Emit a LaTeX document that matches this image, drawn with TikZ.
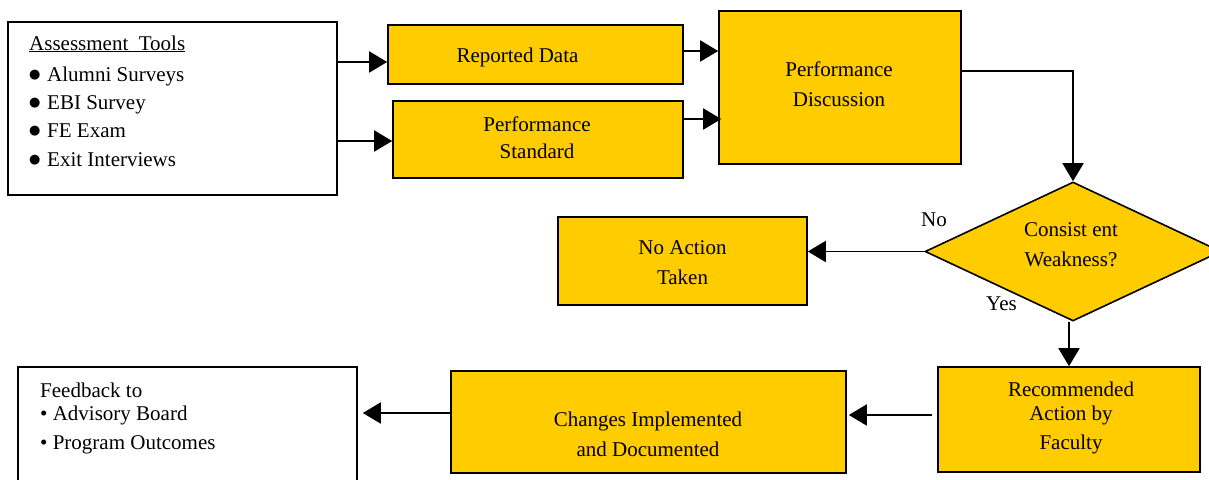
\documentclass[tikz,border=0pt]{standalone}
\usepackage{fontspec}
\setmainfont{Liberation Serif}
\newfontfamily\dvfont{DejaVu Sans}
\usetikzlibrary{shapes.geometric,arrows.meta}
\definecolor{yel}{RGB}{255,204,0}
\newcommand\mylines[1]{\begin{tabular}[t]{@{}c@{}}#1\end{tabular}}
\newcommand\mylinesl[1]{\begin{tabular}[t]{@{}l@{}}#1\end{tabular}}
\newcommand\bigbul{\makebox[18pt][l]{\raisebox{3pt}{\dvfont\fontsize{13}{13}\selectfont ●}}}
\begin{document}
\begin{tikzpicture}[x=1pt,y=-1pt,
  box/.style={draw,line width=1.6pt,fill=yel,inner sep=0pt,rectangle},
  wbox/.style={draw,line width=1.6pt,fill=white,inner sep=0pt,rectangle},
  txt/.style={inner sep=0pt,anchor=base,font=\fontsize{21}{30}\selectfont},
  txtl/.style={inner sep=0pt,anchor=base west,font=\fontsize{21}{30}\selectfont},
  arr/.style={line width=1.8pt,-{Triangle[length=18pt,width=21pt]}}]
\useasboundingbox (0,0) rectangle (1209,479);
\clip (0,0) rectangle (1209,479);
% boxes
\node[wbox,minimum width=329pt,minimum height=173pt] (at) at (172.5,108.5) {};
\node[box,minimum width=295pt,minimum height=59pt] (rd) at (535.5,54.5) {};
\node[box,minimum width=290pt,minimum height=77pt] (ps) at (538,139.5) {};
\node[box,minimum width=242pt,minimum height=153pt] (pd) at (840,87.5) {};
\node[draw,line width=1.6pt,fill=yel,diamond,inner sep=0pt,aspect=2.13,minimum width=296pt,minimum height=139pt] (dia) at (1073,251.5) {};
\node[box,minimum width=249pt,minimum height=88pt] (na) at (682.5,261) {};
\node[box,minimum width=262pt,minimum height=105pt] (rec) at (1069,419.5) {};
\node[box,minimum width=395pt,minimum height=102pt] (ch) at (648.5,422) {};
\node[wbox,minimum width=339pt,minimum height=128pt] (fb) at (187.5,431) {};
% texts
\node[txtl] (tat) at (29,50) {\mylinesl{\underline{Assessment\ \ Tools}\\[1pt]
  \bigbul Alumni Surveys\\[-2pt] \bigbul EBI Survey\\[-2pt] \bigbul FE Exam\\[-1pt] \bigbul Exit Interviews}};
\node[txt] (trd) at (517.5,62) {Reported Data};
\node[txt] (tps) at (537,131) {\mylines{Performance\\[-3pt]Standard}};
\node[txt] (tpd) at (839,76) {\mylines{Performance\\Discussion}};
\node[txt] (tdia) at (1071,236) {\mylines{Consist ent\\Weakness?}};
\node[txt,anchor=base west] (tno) at (921,226) {No};
\node[txt,anchor=base west] (tyes) at (986,310) {Yes};
\node[txt] (tna) at (682.5,254) {\mylines{No Action\\Taken}};
\node[txt] (trec) at (1071,396) {\mylines{Recommended\\[-6pt]Action by\\[-1pt]Faculty}};
\node[txt] (tch) at (648,426) {\mylines{Changes Implemented\\and Documented}};
\node[txtl] (tfb) at (40,397) {\mylinesl{Feedback to\\[-7pt]\textbullet\ Advisory Board\\[-1pt]\textbullet\ Program Outcomes}};
% connectors
\draw[arr] (at.east |- 0,62) -- (rd.west |- 0,62);
\draw[arr] (at.east |- 0,141) -- (ps.west |- 0,141);
\draw[arr] (rd.east |- 0,51) -- (pd.west |- 0,51);
\draw[arr] (ps.east |- 0,119) -- ([xshift=3pt]pd.west |- 0,119);
\draw[arr] (pd.east |- 0,71) -- (dia.north |- 0,71) -- (dia.north);
\draw[arr] (dia.west) -- (na.east |- dia.west);
\draw[arr] ([xshift=-4pt]dia.south) -- ([xshift=-4pt]dia.south |- rec.north);
\draw[arr] ([xshift=-5pt]rec.west |- 0,415) -- ([xshift=2pt]ch.east |- 0,415);
\draw[arr] (ch.west |- 0,413) -- ([xshift=5pt]fb.east |- 0,413);
\end{tikzpicture}
\end{document}
